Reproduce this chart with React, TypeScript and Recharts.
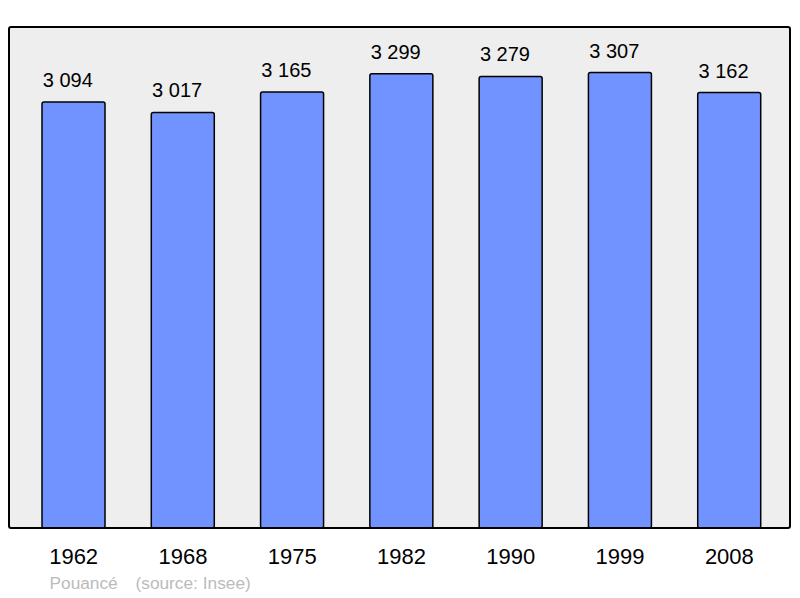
import React from 'react';
import { BarChart, Bar, XAxis, YAxis, CartesianGrid, LabelList } from 'recharts';

const years = ['1962', '1968', '1975', '1982', '1990', '1999', '2008'];
const population = [3094, 3017, 3165, 3299, 3279, 3307, 3162];
const footerPlace = 'Pouancé';
const footerSource = '(source: Insee)';

const data = years.map((y, i) => ({ year: y, pop: population[i] }));
const yMax = Math.max(...population) * 1.1;

const fmt = (v: number) => {
  const s = String(v);
  return s.length > 3 ? s.slice(0, s.length - 3) + '\u00a0' + s.slice(s.length - 3) : s;
};

const FONT = '"Liberation Sans", Arial, sans-serif';

const ValueLabel = (props: any) => {
  const { x, y, value } = props;
  return (
    <text x={Number(x) + 0.8} y={Number(y) - 15} textAnchor="start" fill="#000" fontSize={20} fontFamily={FONT}>
      {fmt(Number(value))}
    </text>
  );
};

export default function App() {
  return (
    <div style={{ position: 'absolute', left: 0, top: 0, width: 800, height: 598, fontFamily: FONT }}>
      <BarChart
        width={800}
        height={598}
        data={data}
        margin={{ top: 27, right: 9, bottom: 30, left: 9 }}
        barSize={63}
      >
        <CartesianGrid fill="#eeeeee" stroke="none" horizontal={false} vertical={false} />
        <YAxis hide domain={[0, yMax]} />
        <XAxis
          dataKey="year"
          height={40}
          axisLine={false}
          tickLine={false}
          tickSize={0}
          tickMargin={20}
          padding={{ left: 10, right: 7 }}
          tick={{ fill: '#000', fontSize: 22, fontFamily: FONT }}
          interval={0}
        />
        <Bar dataKey="pop" fill="#7093ff" stroke="#000" strokeWidth={1.5} radius={2} isAnimationActive={false}>
          <LabelList dataKey="pop" content={ValueLabel} />
        </Bar>
      </BarChart>
      <div
        style={{
          position: 'absolute',
          left: 8,
          top: 26,
          width: 783,
          height: 503,
          boxSizing: 'border-box',
          border: '2px solid #000',
          borderRadius: 3,
          pointerEvents: 'none',
        }}
      />
      <svg style={{ position: 'absolute', left: 0, top: 560 }} width={800} height={38}>
        <text x={49.5} y={29.3} fill="#bbbbbb" fontSize={17.3} fontFamily={FONT}>
          {footerPlace}
        </text>
        <text x={135.5} y={29.3} fill="#bbbbbb" fontSize={17.3} fontFamily={FONT}>
          {footerSource}
        </text>
      </svg>
    </div>
  );
}
